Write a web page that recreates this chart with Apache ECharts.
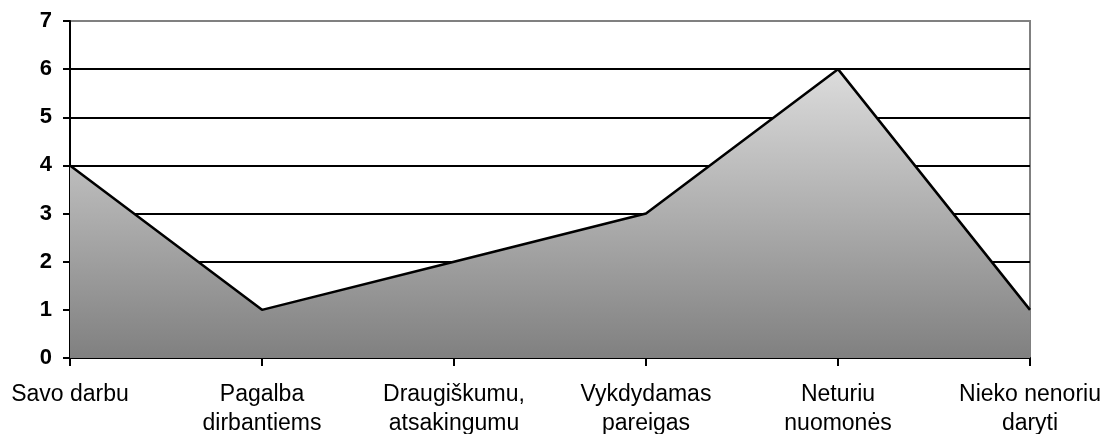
<!DOCTYPE html>
<html>
	<head>
		<title>Area chart</title>
		<meta charset="utf-8">
		<style>
html, body {
	width: 100%;
	height: 100%;
	margin: 0;
	background: #fff;
}
#box1 {
	width: 1118px;
	height: 434px;
}
		</style>
	</head>
	<body>
		<div id="box1"></div>
	</body>
	<script src="https://cdn.jsdelivr.net/npm/echarts@6/dist/echarts.min.js"></script>
	<script type="text/javascript">
var categories = ['Savo darbu', 'Pagalba\ndirbantiems', 'Draugiškumu,\natsakingumu', 'Vykdydamas\npareigas', 'Neturiu\nnuomonės', 'Nieko nenoriu\ndaryti'];
var values = [4, 1, 2, 3, 6, 1];

var myChart = echarts.init(document.getElementById('box1'));

var option = {
	backgroundColor: '#fff',
	animation: false,
	grid: {
		left: 70,
		right: 88,
		top: 21,
		bottom: 76,
		outerBoundsMode: 'none',
		containLabel: false,
		show: true,
		borderColor: '#808080',
		borderWidth: 2,
		backgroundColor: 'transparent'
	},
	xAxis: {
		type: 'category',
		data: categories,
		boundaryGap: false,
		axisLine: { lineStyle: { color: '#000', width: 2 } },
		axisTick: { show: true, length: 8, lineStyle: { color: '#000', width: 2 } },
		axisLabel: {
			interval: 0,
			color: '#000',
			fontFamily: 'Liberation Sans, Arial, sans-serif',
			fontSize: 23,
			lineHeight: 29,
			margin: 22
		},
		splitLine: { show: false }
	},
	yAxis: {
		type: 'value',
		min: 0,
		max: 7,
		interval: 1,
		axisLine: { show: true, lineStyle: { color: '#000', width: 2 } },
		axisTick: { show: true, length: 7, lineStyle: { color: '#000', width: 2 } },
		axisLabel: {
			color: '#000',
			fontFamily: 'Liberation Sans, Arial, sans-serif',
			fontWeight: 'bold',
			fontSize: 22,
			margin: 18
		},
		splitLine: {
			show: true,
			showMinLine: false,
			showMaxLine: false,
			lineStyle: { color: '#000', width: 2 }
		}
	},
	series: [{
		type: 'line',
		data: values,
		symbol: 'none',
		lineStyle: { color: '#000', width: 2.5 },
		areaStyle: {
			opacity: 1,
			color: new echarts.graphic.LinearGradient(0, 0, 0, 1, [
				{ offset: 0, color: '#dcdcdc' },
				{ offset: 1, color: '#808080' }
			])
		}
	}]
};

myChart.setOption(option);
	</script>
</html>
